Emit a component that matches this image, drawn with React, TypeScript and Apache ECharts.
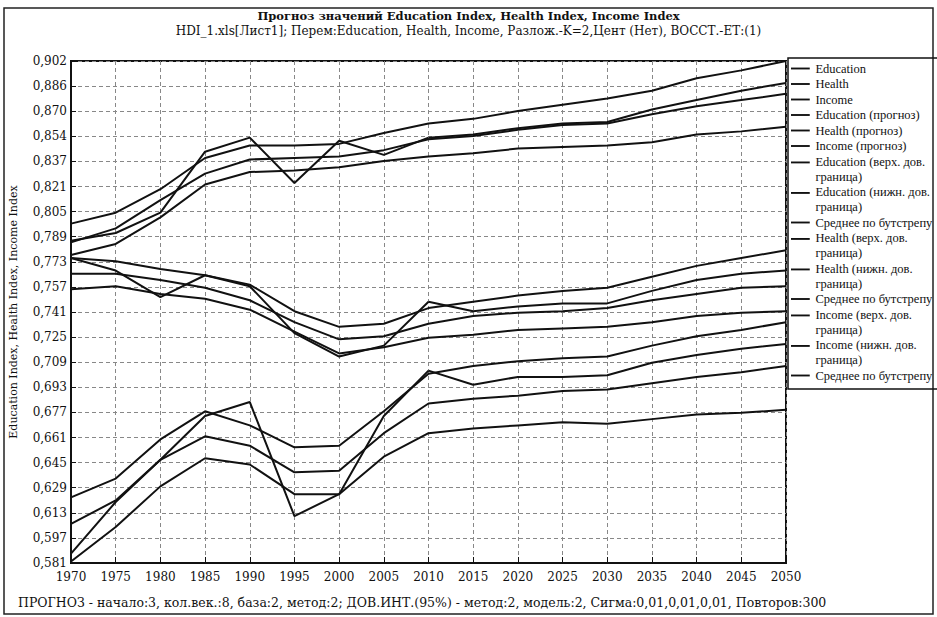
import React, { useEffect, useRef } from "react";
import * as echarts from "echarts";

const years = [1970, 1975, 1980, 1985, 1990, 1995, 2000, 2005, 2010, 2015, 2020, 2025, 2030, 2035, 2040, 2045, 2050];
const histYears = years.slice(0, 9);
const fcYears = years.slice(8);

const yTickLabels = [
  "0,581", "0,597", "0,613", "0,629", "0,645", "0,661", "0,677", "0,693", "0,709", "0,725", "0,741",
  "0,757", "0,773", "0,789", "0,805", "0,821", "0,837", "0,854", "0,870", "0,886", "0,902",
];
const Y0 = 0.581;
const YSTEP = 0.01605;

const eduActual = [0.787, 0.792, 0.805, 0.844, 0.853, 0.824, 0.851, 0.842, 0.853];
const healthActual = [0.776, 0.768, 0.751, 0.765, 0.758, 0.728, 0.713, 0.72, 0.748];
const incomeActual = [0.587, 0.62, 0.647, 0.675, 0.684, 0.611, 0.625, 0.675, 0.704];

const eduForecast = [0.853, 0.855, 0.859, 0.862, 0.863, 0.871, 0.877, 0.883, 0.888];
const healthForecast = [0.748, 0.742, 0.745, 0.747, 0.747, 0.755, 0.762, 0.766, 0.768];
const incomeForecast = [0.704, 0.695, 0.7, 0.7, 0.701, 0.709, 0.714, 0.718, 0.721];

const eduUpper = [0.798, 0.805, 0.82, 0.84, 0.848, 0.848, 0.849, 0.856, 0.862, 0.865, 0.87, 0.874, 0.878, 0.883, 0.891, 0.896, 0.902];
const eduLower = [0.778, 0.785, 0.802, 0.823, 0.831, 0.832, 0.834, 0.838, 0.841, 0.843, 0.846, 0.847, 0.848, 0.85, 0.855, 0.857, 0.86];
const eduMean = [0.786, 0.795, 0.813, 0.83, 0.839, 0.84, 0.841, 0.845, 0.852, 0.854, 0.858, 0.861, 0.862, 0.868, 0.873, 0.877, 0.881];

const healthUpper = [0.776, 0.774, 0.769, 0.765, 0.759, 0.742, 0.732, 0.734, 0.744, 0.748, 0.752, 0.755, 0.757, 0.764, 0.771, 0.776, 0.781];
const healthLower = [0.756, 0.758, 0.753, 0.75, 0.743, 0.729, 0.715, 0.719, 0.725, 0.727, 0.73, 0.731, 0.732, 0.735, 0.739, 0.741, 0.742];
const healthMean = [0.766, 0.766, 0.762, 0.757, 0.749, 0.735, 0.724, 0.726, 0.734, 0.739, 0.741, 0.742, 0.744, 0.749, 0.753, 0.757, 0.758];

const incomeUpper = [0.623, 0.635, 0.66, 0.678, 0.669, 0.655, 0.656, 0.678, 0.702, 0.707, 0.71, 0.712, 0.713, 0.72, 0.726, 0.73, 0.735];
const incomeLower = [0.582, 0.604, 0.63, 0.648, 0.644, 0.625, 0.625, 0.649, 0.664, 0.667, 0.669, 0.671, 0.67, 0.673, 0.676, 0.677, 0.679];
const incomeMean = [0.606, 0.621, 0.647, 0.662, 0.656, 0.639, 0.64, 0.664, 0.683, 0.686, 0.688, 0.691, 0.692, 0.696, 0.7, 0.703, 0.707];

const titleText = "Прогноз значений Education Index, Health Index, Income Index";
const subText = "HDI_1.xls[Лист1]; Перем:Education, Health, Income, Разлож.-K=2,Цент (Нет), ВОССТ.-ЕТ:(1)";
const footerText =
  "ПРОГНОЗ - начало:3, кол.век.:8, база:2, метод:2; ДОВ.ИНТ.(95%) - метод:2, модель:2, Сигма:0,01,0,01,0,01, Повторов:300";
const yAxisName = "Education Index, Health Index, Income Index";

const MEAN = "Среднее по бутстрепу";

type Def = { id: string; label: string; xs: number[]; vals: number[] };
const defs: Def[] = [
  { id: "e", label: "Education", xs: histYears, vals: eduActual },
  { id: "h", label: "Health", xs: histYears, vals: healthActual },
  { id: "i", label: "Income", xs: histYears, vals: incomeActual },
  { id: "ef", label: "Education (прогноз)", xs: fcYears, vals: eduForecast },
  { id: "hf", label: "Health (прогноз)", xs: fcYears, vals: healthForecast },
  { id: "if", label: "Income (прогноз)", xs: fcYears, vals: incomeForecast },
  { id: "eu", label: "Education (верх. дов.\nграница)", xs: years, vals: eduUpper },
  { id: "el", label: "Education (нижн. дов.\nграница)", xs: years, vals: eduLower },
  { id: "em", label: MEAN, xs: years, vals: eduMean },
  { id: "hu", label: "Health (верх. дов.\nграница)", xs: years, vals: healthUpper },
  { id: "hl", label: "Health (нижн. дов.\nграница)", xs: years, vals: healthLower },
  { id: "hm", label: MEAN, xs: years, vals: healthMean },
  { id: "iu", label: "Income (верх. дов.\nграница)", xs: years, vals: incomeUpper },
  { id: "il", label: "Income (нижн. дов.\nграница)", xs: years, vals: incomeLower },
  { id: "im", label: MEAN, xs: years, vals: incomeMean },
];

const FONT = "DejaVu Serif";
const LEGEND_FONT = "Liberation Serif";
const ICON_SINGLE = "path://M0,0L0,0M0,7L20,7L20,9L0,9ZM0,16L0,16";
const ICON_DOUBLE = "path://M0,0L20,0L20,2L0,2ZM0,16L0,16";

export default function App() {
  const ref = useRef<HTMLDivElement>(null);
  useEffect(() => {
    if (!ref.current) return;
    const chart = echarts.init(ref.current, undefined, { renderer: "svg" });
    const labelMap: Record<string, string> = {};
    defs.forEach((d) => (labelMap[d.id] = d.label));
    const option: any = {
      animation: false,
      backgroundColor: "#fff",
      title: {
        text: titleText,
        subtext: subText,
        left: "center",
        top: 5,
        itemGap: 3,
        textStyle: { fontFamily: FONT, fontSize: 11.5, fontWeight: "bold", color: "#111" },
        subtextStyle: { fontFamily: FONT, fontSize: 12, color: "#111" },
      },
      legend: {
        orient: "vertical",
        left: 788,
        top: 58,
        padding: [3, 40, 6, 3],
        borderColor: "#111",
        borderWidth: 1.5,
        itemGap: 0.5,
        itemWidth: 20,
        itemHeight: 15,
        selectedMode: false,
        textStyle: { fontFamily: LEGEND_FONT, fontSize: 12.5, lineHeight: 15, color: "#111" },
        formatter: (name: string) => labelMap[name] || name,
        data: defs.map((d) => ({ name: d.id, icon: d.label.includes("\n") ? ICON_DOUBLE : ICON_SINGLE })),
      },
      grid: {
        left: 67,
        top: 61,
        width: 719,
        height: 502,
        show: true,
        borderColor: "#111",
        borderWidth: 2,
        backgroundColor: "transparent",
      },
      xAxis: {
        type: "value",
        min: 1970,
        max: 2050,
        interval: 5,
        axisLine: { lineStyle: { color: "#111", width: 2 } },
        axisTick: { inside: true, length: 6, lineStyle: { color: "#111" } },
        axisLabel: { fontFamily: FONT, fontSize: 12, color: "#111", margin: 8, formatter: (v: number) => String(v) },
        splitLine: { show: true, lineStyle: { color: "#888", type: [4, 3], width: 1 } },
      },
      yAxis: {
        type: "value",
        min: 0,
        max: 20,
        interval: 1,
        name: yAxisName,
        nameLocation: "middle",
        nameGap: 52,
        nameTextStyle: { fontFamily: FONT, fontSize: 11, color: "#111" },
        axisLine: { show: true, lineStyle: { color: "#111", width: 2 } },
        axisTick: { show: true, inside: true, length: 5, lineStyle: { color: "#111" } },
        axisLabel: {
          fontFamily: FONT,
          fontSize: 12,
          color: "#111",
          margin: 4,
          formatter: (v: number) => yTickLabels[Math.round(v)] ?? "",
        },
        splitLine: { show: true, lineStyle: { color: "#888", type: [4, 3], width: 1 } },
      },
      series: defs.map((d) => ({
        name: d.id,
        type: "line",
        showSymbol: false,
        symbol: "none",
        color: "#111",
        lineStyle: { color: "#111", width: 2 },
        data: d.xs.map((x, i) => [x, (d.vals[i] - Y0) / YSTEP]),
      })),
      graphic: [
        {
          type: "rect",
          shape: { x: 4, y: 8, width: 929, height: 606 },
          style: { fill: "none", stroke: "#222", lineWidth: 1.5 },
          silent: true,
        },
        {
          type: "text",
          left: 18,
          top: 596,
          style: { text: footerText, fontFamily: FONT, fontSize: 12.5, fill: "#111" },
        },
      ],
    };
    chart.setOption(option);
    return () => chart.dispose();
  }, []);
  return <div ref={ref} style={{ position: "absolute", left: 0, top: 0, width: 937, height: 617 }} />;
}
